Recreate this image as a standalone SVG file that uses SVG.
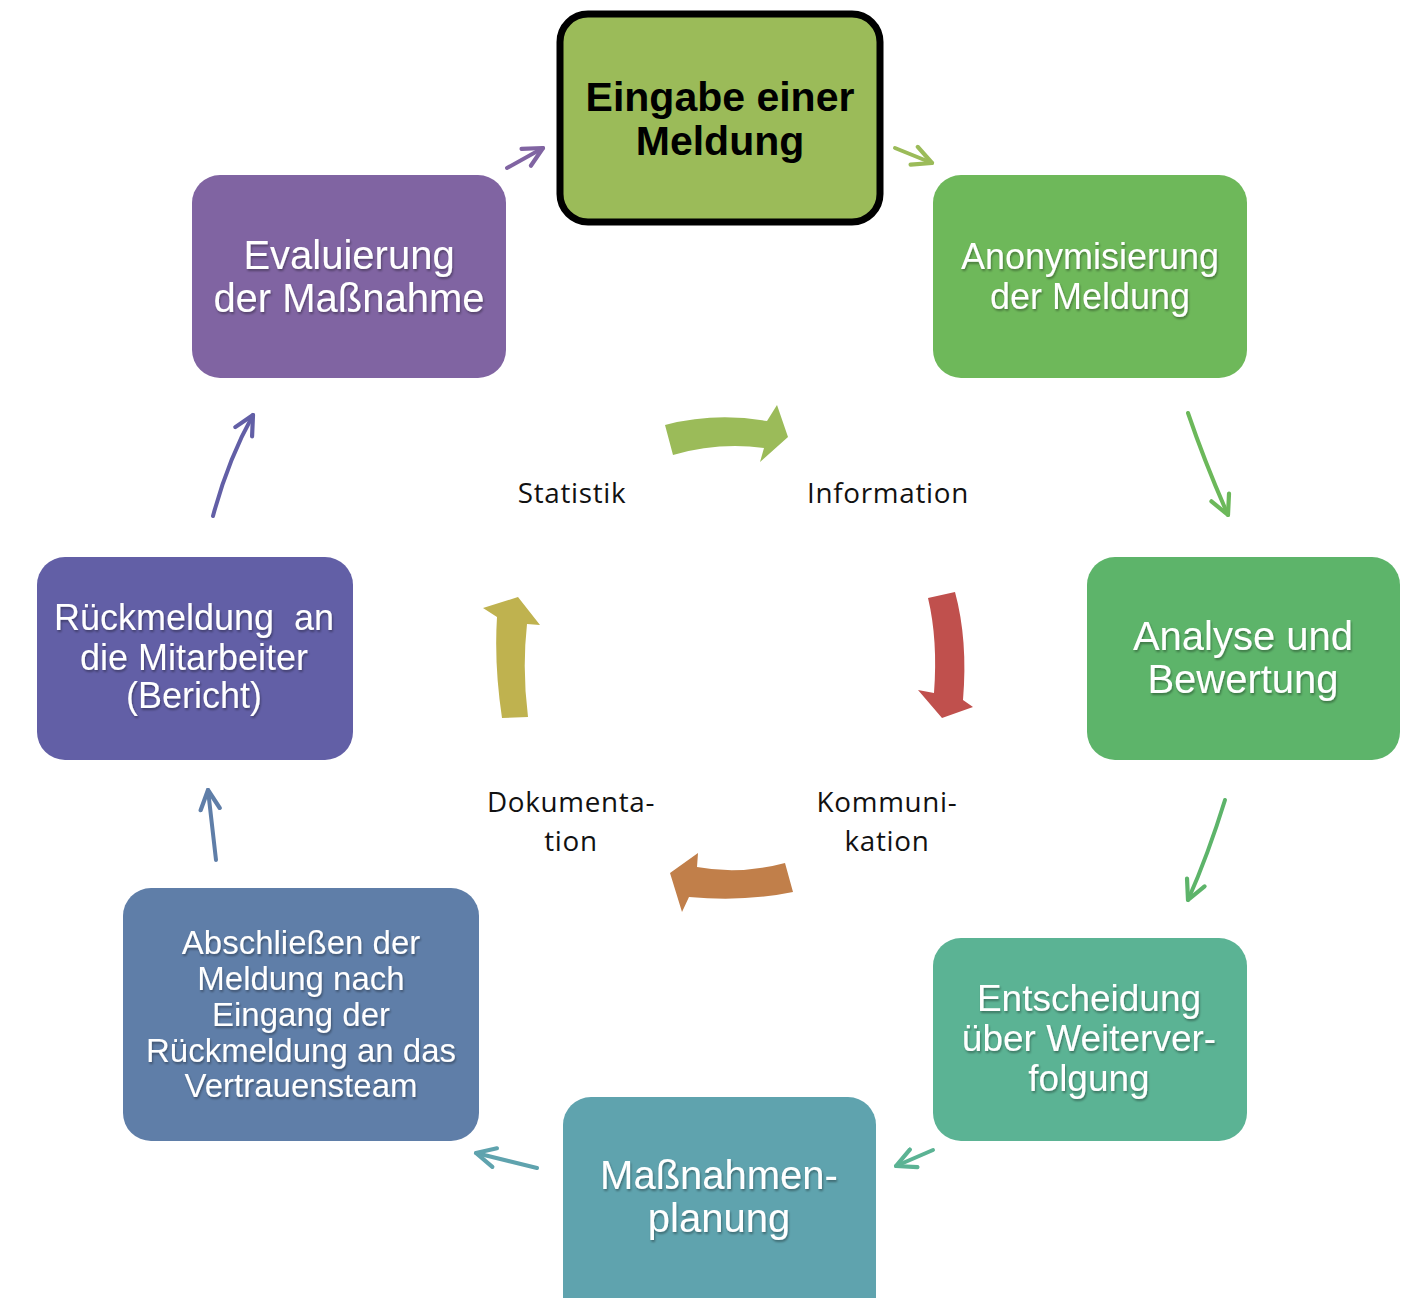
<svg xmlns="http://www.w3.org/2000/svg" width="1415" height="1298" viewBox="0 0 1415 1298">
<style>
.nt{font-family:"Liberation Sans",Arial,sans-serif;fill:#fff;text-anchor:middle;}
.lb{font-family:"Open Sans","Liberation Sans",sans-serif;font-size:27.8px;letter-spacing:0.7px;fill:#111;text-anchor:middle;}
.c{fill:none;stroke-width:4;stroke-linecap:round;}
</style>
<defs>
<filter id="sh" x="-10%" y="-10%" width="120%" height="130%"><feDropShadow dx="1" dy="2" stdDeviation="1" flood-color="#000" flood-opacity="0.35"/></filter>
<marker id="m1" viewBox="0 0 20 20" refX="18" refY="10" markerWidth="24" markerHeight="24" markerUnits="userSpaceOnUse" orient="auto"><path d="M2,2 L18,10 L2,18" fill="none" stroke="#8064A2" stroke-width="3.5" stroke-linecap="round" stroke-linejoin="round"/></marker>
<marker id="m2" viewBox="0 0 20 20" refX="18" refY="10" markerWidth="24" markerHeight="24" markerUnits="userSpaceOnUse" orient="auto"><path d="M2,2 L18,10 L2,18" fill="none" stroke="#9BBB59" stroke-width="3.5" stroke-linecap="round" stroke-linejoin="round"/></marker>
<marker id="m3" viewBox="0 0 20 20" refX="18" refY="10" markerWidth="24" markerHeight="24" markerUnits="userSpaceOnUse" orient="auto"><path d="M2,2 L18,10 L2,18" fill="none" stroke="#6CB85A" stroke-width="3.5" stroke-linecap="round" stroke-linejoin="round"/></marker>
<marker id="m4" viewBox="0 0 20 20" refX="18" refY="10" markerWidth="24" markerHeight="24" markerUnits="userSpaceOnUse" orient="auto"><path d="M2,2 L18,10 L2,18" fill="none" stroke="#5DB46A" stroke-width="3.5" stroke-linecap="round" stroke-linejoin="round"/></marker>
<marker id="m5" viewBox="0 0 20 20" refX="18" refY="10" markerWidth="24" markerHeight="24" markerUnits="userSpaceOnUse" orient="auto"><path d="M2,2 L18,10 L2,18" fill="none" stroke="#5BB394" stroke-width="3.5" stroke-linecap="round" stroke-linejoin="round"/></marker>
<marker id="m6" viewBox="0 0 20 20" refX="18" refY="10" markerWidth="24" markerHeight="24" markerUnits="userSpaceOnUse" orient="auto"><path d="M2,2 L18,10 L2,18" fill="none" stroke="#5FA3AE" stroke-width="3.5" stroke-linecap="round" stroke-linejoin="round"/></marker>
<marker id="m7" viewBox="0 0 20 20" refX="18" refY="10" markerWidth="24" markerHeight="24" markerUnits="userSpaceOnUse" orient="auto"><path d="M2,2 L18,10 L2,18" fill="none" stroke="#5F7EA8" stroke-width="3.5" stroke-linecap="round" stroke-linejoin="round"/></marker>
<marker id="m8" viewBox="0 0 20 20" refX="18" refY="10" markerWidth="24" markerHeight="24" markerUnits="userSpaceOnUse" orient="auto"><path d="M2,2 L18,10 L2,18" fill="none" stroke="#625FA6" stroke-width="3.5" stroke-linecap="round" stroke-linejoin="round"/></marker>
</defs>
<rect width="1415" height="1298" fill="#fff"/>

<g id="connectors">
<path class="c" stroke="#8064A2" d="M507,168 L543,148" marker-end="url(#m1)"/>
<path class="c" stroke="#9BBB59" d="M895,148 L932,163" marker-end="url(#m2)"/>
<path class="c" stroke="#6CB85A" d="M1188,413 Q1205,463 1228,515" marker-end="url(#m3)"/>
<path class="c" stroke="#5DB46A" d="M1225,800 Q1208,855 1188,900" marker-end="url(#m4)"/>
<path class="c" stroke="#5BB394" d="M933,1150 L896,1166" marker-end="url(#m5)"/>
<path class="c" stroke="#5FA3AE" d="M537,1168 L476,1153" marker-end="url(#m6)"/>
<path class="c" stroke="#5F7EA8" d="M216,860 L208,790" marker-end="url(#m7)"/>
<path class="c" stroke="#625FA6" d="M213,516 Q228,460 253,415" marker-end="url(#m8)"/>
</g>

<g id="cycle-arrows">
<path fill="#9BBB59" d="M665,425 Q715,412 767,421 L777,405 L788,437 L760,462 L764,448 Q718,442 673,455 Z"/>
<path fill="#C0504D" d="M928,598 L955,592 Q968,640 963,700 L973,707 L942,718 L918,690 L934,693 Q938,640 928,598 Z"/>
<path fill="#C17F4A" d="M785,863 Q740,875 697,867 L698,853 L670,873 L682,912 L689,897 Q745,902 793,892 Z"/>
<path fill="#BFB24F" d="M502,718 Q494,665 497,617 L483,608 L518,597 L540,625 L527,624 Q522,670 528,717 Z"/>
</g>

<g id="labels">
<text class="lb" x="572" y="503">Statistik</text>
<text class="lb" x="888" y="503">Information</text>
<text class="lb" x="571" y="812">Dokumenta-<tspan x="571" dy="38.5">tion</tspan></text>
<text class="lb" x="887" y="812">Kommuni-<tspan x="887" dy="38.5">kation</tspan></text>
</g>

<g id="node-eingabe">
<rect x="560" y="14" width="320" height="208" rx="28" fill="#9BBB59" stroke="#000" stroke-width="7"/>
<text x="720" y="111" font-family="Liberation Sans,Arial,sans-serif" font-weight="bold" font-size="41" fill="#000" text-anchor="middle">Eingabe einer</text>
<text x="720" y="155" font-family="Liberation Sans,Arial,sans-serif" font-weight="bold" font-size="41" fill="#000" text-anchor="middle">Meldung</text>
</g>

<g id="node-anonymisierung">
<rect x="933" y="175" width="314" height="203" rx="28" fill="#6EB85A"/>
<g class="nt" font-size="36" filter="url(#sh)"><text x="1090" y="269">Anonymisierung</text><text x="1090" y="309">der Meldung</text></g>
</g>

<g id="node-analyse">
<rect x="1087" y="557" width="313" height="203" rx="28" fill="#5DB46A"/>
<g class="nt" font-size="40" filter="url(#sh)"><text x="1243" y="650">Analyse und</text><text x="1243" y="693">Bewertung</text></g>
</g>

<g id="node-entscheidung">
<rect x="933" y="938" width="314" height="203" rx="28" fill="#5BB394"/>
<g class="nt" font-size="37" filter="url(#sh)"><text x="1089" y="1011">Entscheidung</text><text x="1089" y="1051">über Weiterver-</text><text x="1089" y="1091">folgung</text></g>
</g>

<g id="node-massnahmen">
<rect x="563" y="1097" width="313" height="230" rx="28" fill="#5FA3AE"/>
<g class="nt" font-size="40" filter="url(#sh)"><text x="719" y="1189">Maßnahmen-</text><text x="719" y="1232">planung</text></g>
</g>

<g id="node-abschliessen">
<rect x="123" y="888" width="356" height="253" rx="28" fill="#5F7EA8"/>
<g class="nt" font-size="33" filter="url(#sh)"><text x="301" y="954">Abschließen der</text><text x="301" y="990">Meldung nach</text><text x="301" y="1026">Eingang der</text><text x="301" y="1062">Rückmeldung an das</text><text x="301" y="1097">Vertrauensteam</text></g>
</g>

<g id="node-rueckmeldung">
<rect x="37" y="557" width="316" height="203" rx="28" fill="#625FA6"/>
<g class="nt" font-size="36" filter="url(#sh)"><text x="194" y="630" xml:space="preserve">Rückmeldung  an</text><text x="194" y="670">die Mitarbeiter</text><text x="194" y="708">(Bericht)</text></g>
</g>

<g id="node-evaluierung">
<rect x="192" y="175" width="314" height="203" rx="28" fill="#8064A2"/>
<g class="nt" font-size="40" filter="url(#sh)"><text x="349" y="269">Evaluierung</text><text x="349" y="312">der Maßnahme</text></g>
</g>
</svg>
